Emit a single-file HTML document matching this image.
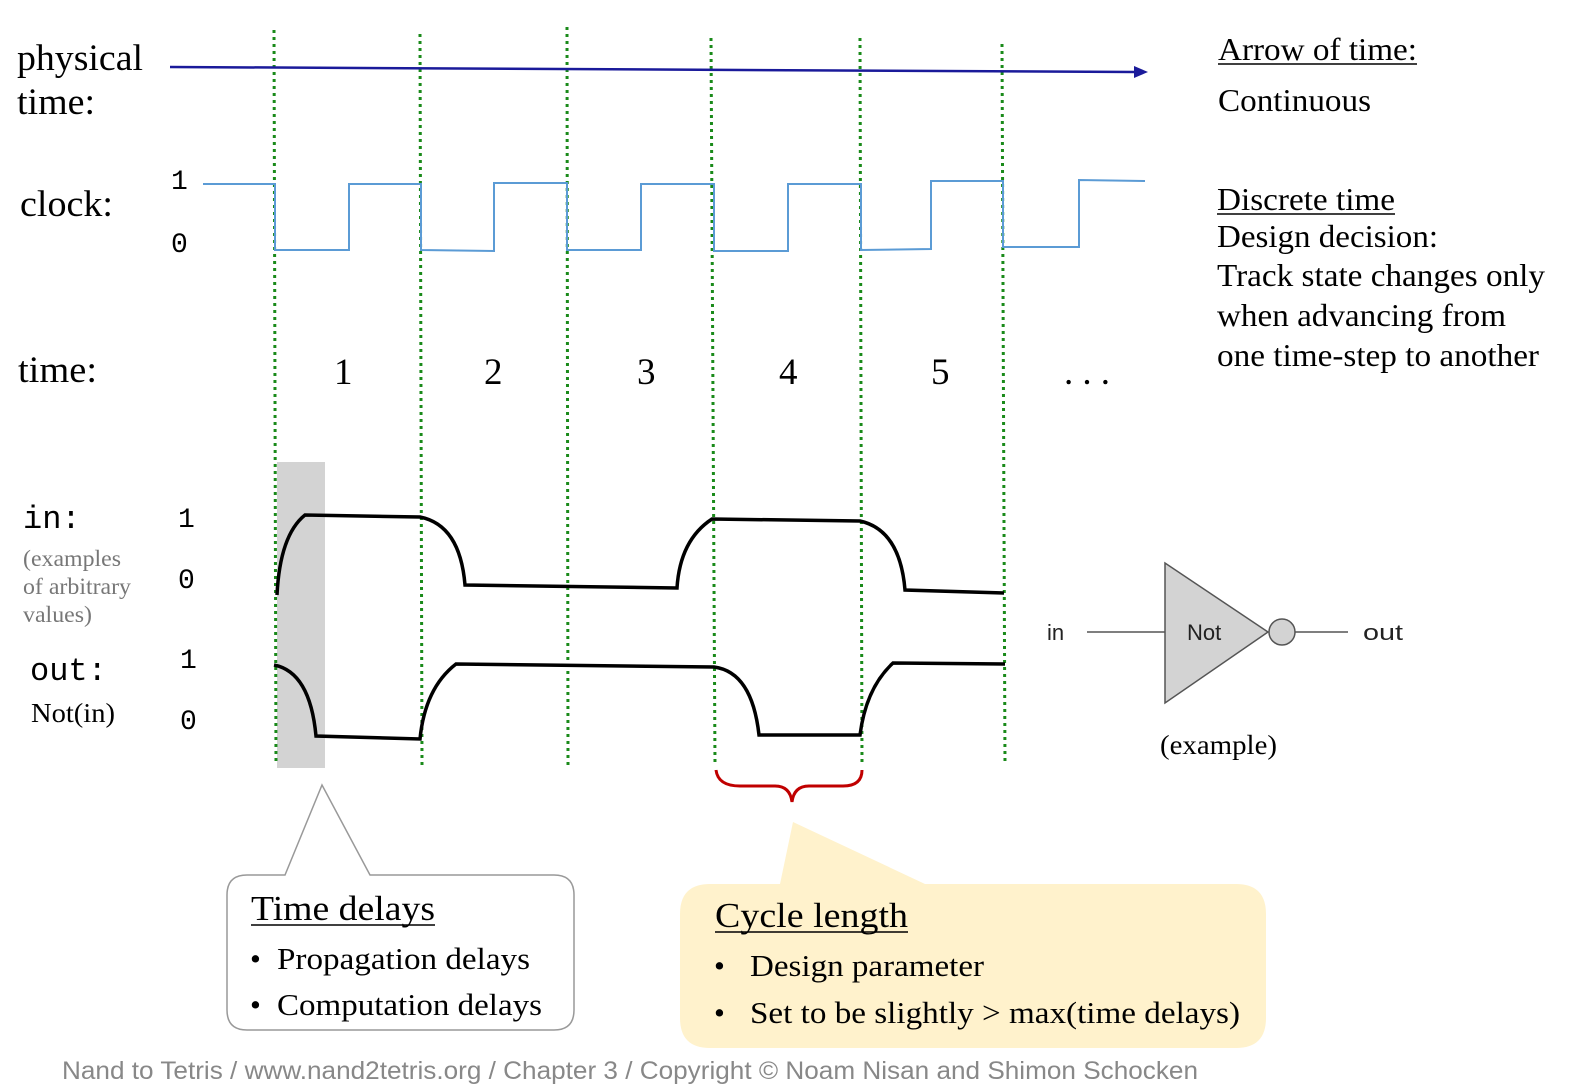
<!DOCTYPE html>
<html><head><meta charset="utf-8"><style>
html,body{margin:0;padding:0;background:#fff;}
svg{display:block}
.s{font-family:"Liberation Serif",serif;fill:#000}
.m{font-family:"Liberation Mono",monospace;fill:#000}
.a{font-family:"Liberation Sans",sans-serif}
</style></head><body>
<svg width="1572" height="1090" viewBox="0 0 1572 1090" xmlns="http://www.w3.org/2000/svg">
<rect x="277" y="462" width="48" height="306" fill="#d3d3d3"/>
<g stroke="#1a8a1a" stroke-width="3" stroke-dasharray="3,4">
<line x1="274" y1="30" x2="276" y2="765"/>
<line x1="420" y1="34" x2="422" y2="765"/>
<line x1="567" y1="27" x2="568" y2="765"/>
<line x1="711" y1="38" x2="715" y2="765"/>
<line x1="860" y1="38" x2="862" y2="765"/>
<line x1="1002" y1="44" x2="1005" y2="765"/>
</g>
<line x1="170" y1="67" x2="1135" y2="72" stroke="#1a1a9a" stroke-width="2.5"/>
<polygon points="1148,72 1134,66 1134,78" fill="#1a1a9a"/>
<polyline fill="none" stroke="#5b9bd5" stroke-width="2" points="203,184 275,184 275,250 349,250 349,184 421,184 421,250 494,251 494,183 567,183 567,250 641,250 641,184 714,184 714,251 788,251 788,184 861,184 861,250 931,249 931,181 1003,181 1003,247 1079,247 1079,180 1145,181"/>
<path d="M277,595 Q280,535 305,515 L420,517 Q460,525 465,585 L677,588 Q680,540 712,519 L860,521 Q900,530 905,590 L1004,593" fill="none" stroke="#000" stroke-width="3.5"/>
<path d="M274,665 Q310,672 316,736 L420,739 Q425,688 456,664 L714,667 Q752,672 759,735 L860,735 Q866,688 893,663 L1005,664" fill="none" stroke="#000" stroke-width="3.5"/>
<path d="M716,770 Q718,786 740,786 L775,786 Q790,786 792,802 Q794,786 809,786 L843,786 Q862,786 862,770" fill="none" stroke="#c00000" stroke-width="3"/>
<g class="s" font-size="37">
<text x="17" y="70" textLength="126" lengthAdjust="spacingAndGlyphs">physical</text>
<text x="17" y="114" textLength="78" lengthAdjust="spacingAndGlyphs">time:</text>
<text x="20" y="216" textLength="93" lengthAdjust="spacingAndGlyphs">clock:</text>
<text x="18" y="382" textLength="79" lengthAdjust="spacingAndGlyphs">time:</text>
</g>
<text class="m" x="171" y="189" font-size="28">1</text>
<text class="m" x="171" y="252" font-size="28">0</text>
<g class="s" font-size="37">
<text x="334" y="384">1</text><text x="484" y="384">2</text><text x="637" y="384">3</text>
<text x="779" y="384">4</text><text x="931" y="384">5</text><text x="1064" y="384" textLength="46">. . .</text>
</g>
<text class="m" x="23" y="528" font-size="32">in:</text>
<g class="s" font-size="23" style="fill:#777">
<text x="23" y="566" textLength="98" lengthAdjust="spacingAndGlyphs">(examples</text>
<text x="23" y="594" textLength="108" lengthAdjust="spacingAndGlyphs">of arbitrary</text>
<text x="23" y="622" textLength="69" lengthAdjust="spacingAndGlyphs">values)</text>
</g>
<text class="m" x="178" y="527" font-size="28">1</text>
<text class="m" x="178" y="588" font-size="28">0</text>
<text class="m" x="30" y="680" font-size="32">out:</text>
<text class="s" x="31" y="722" font-size="27" textLength="84" lengthAdjust="spacingAndGlyphs">Not(in)</text>
<text class="m" x="180" y="668" font-size="28">1</text>
<text class="m" x="180" y="729" font-size="28">0</text>
<g class="s" font-size="32">
<text x="1218" y="60" textLength="199" lengthAdjust="spacingAndGlyphs">Arrow of time:</text>
<line x1="1218" y1="64" x2="1417" y2="64" stroke="#000" stroke-width="1.5"/>
<text x="1218" y="111" textLength="153" lengthAdjust="spacingAndGlyphs">Continuous</text>
<text x="1217" y="210" textLength="178" lengthAdjust="spacingAndGlyphs">Discrete time</text>
<line x1="1217" y1="214" x2="1395" y2="214" stroke="#000" stroke-width="1.5"/>
<text x="1217" y="247" textLength="221" lengthAdjust="spacingAndGlyphs">Design decision:</text>
<text x="1217" y="286" textLength="328" lengthAdjust="spacingAndGlyphs">Track state changes only</text>
<text x="1217" y="326" textLength="289" lengthAdjust="spacingAndGlyphs">when advancing from</text>
<text x="1217" y="366" textLength="322" lengthAdjust="spacingAndGlyphs">one time-step to another</text>
</g>
<line x1="1087" y1="632" x2="1165" y2="632" stroke="#555" stroke-width="1.5"/>
<polygon points="1165,563 1165,703 1268,632" fill="#d3d3d3" stroke="#555" stroke-width="1.5"/>
<circle cx="1282" cy="632" r="13" fill="#d3d3d3" stroke="#555" stroke-width="1.5"/>
<line x1="1295" y1="632" x2="1348" y2="632" stroke="#555" stroke-width="1.5"/>
<text class="a" x="1047" y="640" font-size="22" fill="#222">in</text>
<text class="a" x="1187" y="640" font-size="22" fill="#222">Not</text>
<text class="a" x="1363" y="640" font-size="22" fill="#222" textLength="40" lengthAdjust="spacingAndGlyphs">out</text>
<text class="s" x="1160" y="754" font-size="27" textLength="117" lengthAdjust="spacingAndGlyphs">(example)</text>
<path d="M247,875 L285,875 L322,785 L370,875 L554,875 Q574,875 574,895 L574,1010 Q574,1030 554,1030 L247,1030 Q227,1030 227,1010 L227,895 Q227,875 247,875 Z" fill="#fff" stroke="#999" stroke-width="1.5"/>
<g class="s">
<text x="251" y="920" font-size="35" textLength="184" lengthAdjust="spacingAndGlyphs">Time delays</text>
<line x1="251" y1="925" x2="435" y2="925" stroke="#000" stroke-width="1.5"/>
<text x="250" y="969" font-size="31">•</text>
<text x="277" y="969" font-size="31" textLength="253" lengthAdjust="spacingAndGlyphs">Propagation delays</text>
<text x="250" y="1015" font-size="31">•</text>
<text x="277" y="1015" font-size="31" textLength="265" lengthAdjust="spacingAndGlyphs">Computation delays</text>
</g>
<path d="M710,884 L780,884 L793,822 L925,884 L1236,884 Q1266,884 1266,914 L1266,1018 Q1266,1048 1236,1048 L710,1048 Q680,1048 680,1018 L680,914 Q680,884 710,884 Z" fill="#fff2cc"/>
<g class="s">
<text x="715" y="927" font-size="35" textLength="193" lengthAdjust="spacingAndGlyphs">Cycle length</text>
<line x1="715" y1="932" x2="908" y2="932" stroke="#000" stroke-width="1.5"/>
<text x="714" y="976" font-size="31">•</text>
<text x="750" y="976" font-size="31" textLength="234" lengthAdjust="spacingAndGlyphs">Design parameter</text>
<text x="714" y="1023" font-size="31">•</text>
<text x="750" y="1023" font-size="31" textLength="490" lengthAdjust="spacingAndGlyphs">Set to be slightly &gt; max(time delays)</text>
</g>
<text class="a" x="62" y="1079" font-size="25" fill="#888" textLength="1136" lengthAdjust="spacingAndGlyphs">Nand to Tetris / www.nand2tetris.org / Chapter 3 / Copyright © Noam Nisan and Shimon Schocken</text>
</svg>
</body></html>
